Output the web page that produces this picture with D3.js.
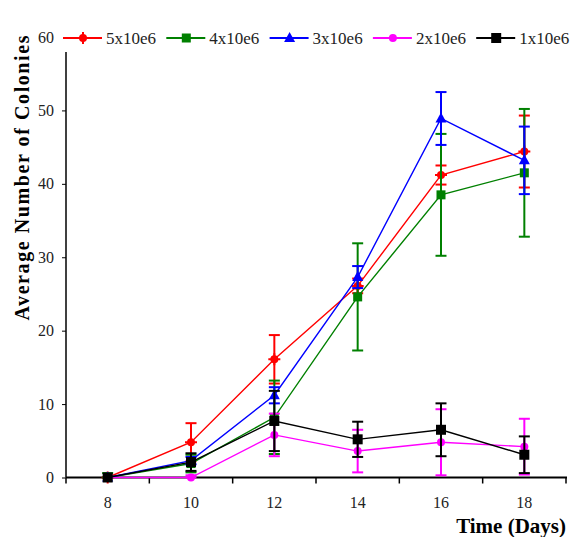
<!DOCTYPE html>
<html>
<head>
<meta charset="utf-8">
<script src="https://cdn.jsdelivr.net/npm/d3@7"></script>
<style>
  body { margin: 0; background: #fff; }
  svg { display: block; }
  svg text { font-family: "Times New Roman", "Liberation Serif", Times, serif; }
</style>
</head>
<body>
<svg width="570" height="537"></svg>
<script>
const days = ['8', '10', '12', '14', '16', '18'];
const yTicks = [0, 10, 20, 30, 40, 50, 60];

// means and error (+/-) per series
const s5 = [0, 4.8, 16.1, 26.1, 41.2, 44.4];
const s5Err = [0, 2.6, 3.3, 1.0, 1.3, 4.9];
const s4 = [0, 1.9, 8.2, 24.6, 38.5, 41.5];
const s4Err = [0.6, 1.2, 5.0, 7.3, 8.3, 8.7];
const s3 = [0, 2.3, 11.2, 27.3, 48.9, 43.2];
const s3Err = [0, 0.5, 1.1, 1.5, 3.6, 4.6];
const s2 = [0, 0, 5.8, 3.6, 4.8, 4.2];
const s2Err = [0, 0.3, 2.9, 2.9, 4.5, 3.8];
const s1 = [0, 2.1, 7.7, 5.2, 6.5, 3.1];
const s1Err = [0, 1.2, 4.1, 2.4, 3.6, 2.5];

const series = [
  { name: '5x10e6', values: s5, err: s5Err, color: '#ff0000', shape: 'plus' },
  { name: '4x10e6', values: s4, err: s4Err, color: '#008000', shape: 'square' },
  { name: '3x10e6', values: s3, err: s3Err, color: '#0000ff', shape: 'triangle' },
  { name: '2x10e6', values: s2, err: s2Err, color: '#ff00ff', shape: 'dot' },
  { name: '1x10e6', values: s1, err: s1Err, color: '#000000', shape: 'bigsquare' },
];

const serif = '"Times New Roman", "Liberation Serif", Times, serif';
const svg = d3.select('svg');

const x = d3.scaleBand().domain(days).range([66, 566]);
const y = d3.scaleLinear().domain([0, 60]).range([477.5, 37]);
const cx = d => x(d) + x.bandwidth() / 2;

// markers
const drawMarker = (g, shape, color) => {
  if (shape === 'square') {
    g.append('rect').attr('x', -4.5).attr('y', -4.5).attr('width', 9).attr('height', 9).attr('fill', color);
  } else if (shape === 'bigsquare') {
    g.append('rect').attr('x', -5).attr('y', -5).attr('width', 10).attr('height', 10).attr('fill', color);
  } else if (shape === 'triangle') {
    g.append('path').attr('d', 'M0,-6L5.5,4L-5.5,4Z').attr('fill', color);
  } else if (shape === 'dot') {
    g.append('circle').attr('r', 4).attr('fill', color);
  } else {
    g.append('circle').attr('r', 4).attr('fill', color);
    g.append('path').attr('d', 'M-6,0H6M0,-6V6').attr('stroke', color).attr('stroke-width', 2);
  }
};

// y axis
const yAxis = svg.append('g')
  .attr('transform', 'translate(66,0)')
  .call(d3.axisLeft(y).tickValues(yTicks).tickSize(4).tickPadding(8));
yAxis.attr('font-family', serif);
yAxis.select('.domain').attr('d', `M0,${y(60)}V${y(0)}`).attr('stroke-width', 1.5);
yAxis.selectAll('text').attr('font-size', 16).attr('fill', '#222');

// x axis
const xAxis = svg.append('g')
  .attr('transform', `translate(0,${y(0)})`)
  .call(d3.axisBottom(x).tickSize(0).tickPadding(19));
xAxis.attr('font-family', serif);
xAxis.select('.domain').attr('d', 'M66,0H567').attr('stroke-width', 2);
xAxis.selectAll('text').attr('font-size', 16).attr('fill', '#222');
xAxis.selectAll('line.edge')
  .data(days.map(d => x(d)).concat([x(days[days.length - 1]) + x.bandwidth()]))
  .enter().append('line')
    .attr('class', 'edge')
    .attr('x1', d => d).attr('x2', d => d)
    .attr('y1', 0).attr('y2', 6)
    .attr('stroke', '#000').attr('stroke-width', 1.5);

// series
const line = d3.line().x((v, i) => cx(days[i])).y(v => y(v));
series.forEach(s => {
  const g = svg.append('g');
  g.selectAll('g.err')
    .data(s.values.map((v, i) => ({ v, e: s.err[i], d: days[i] })))
    .enter().append('g')
      .attr('class', 'err')
      .each(function (p) {
        if (!p.e) return;
        const el = d3.select(this);
        const top = y(p.v + p.e), bot = y(Math.max(0, p.v - p.e));
        el.append('line').attr('x1', cx(p.d)).attr('x2', cx(p.d)).attr('y1', top).attr('y2', bot)
          .attr('stroke', s.color).attr('stroke-width', 2);
        [top, bot].forEach(yy => el.append('line')
          .attr('x1', cx(p.d) - 5.5).attr('x2', cx(p.d) + 5.5).attr('y1', yy).attr('y2', yy)
          .attr('stroke', s.color).attr('stroke-width', 2));
      });
  g.append('path')
    .attr('d', line(s.values))
    .attr('fill', 'none')
    .attr('stroke', s.color)
    .attr('stroke-width', 1.4);
  g.selectAll('g.mk')
    .data(s.values)
    .enter().append('g')
      .attr('class', 'mk')
      .attr('transform', (v, i) => `translate(${cx(days[i])},${y(v)})`)
      .each(function () { drawMarker(d3.select(this), s.shape, s.color); });
});

// legend (white box across the top of the plot)
const legend = svg.append('g');
legend.append('rect').attr('x', 59).attr('y', 24).attr('width', 511).attr('height', 28).attr('fill', '#fff');
const item = legend.selectAll('g.item')
  .data(series)
  .enter().append('g')
    .attr('class', 'item')
    .attr('transform', (d, i) => `translate(${63 + i * 103.3},38)`);
item.append('line').attr('x1', 0).attr('x2', 39).attr('y1', 0).attr('y2', 0)
  .attr('stroke', d => d.color).attr('stroke-width', 2);
item.append('g').attr('transform', 'translate(20,0)')
  .each(function (d) { drawMarker(d3.select(this), d.shape, d.color); });
item.append('text')
  .attr('x', 43).attr('y', 6)
  .attr('font-family', serif)
  .attr('font-size', 17)
  .attr('fill', '#222')
  .text(d => d.name);

// titles
svg.append('text')
  .attr('transform', 'translate(29,178) rotate(-90)')
  .attr('text-anchor', 'middle')
  .attr('font-family', serif)
  .attr('font-size', 20)
  .attr('font-weight', 'bold')
  .attr('textLength', 285)
  .attr('lengthAdjust', 'spacing')
  .text('Average Number of Colonies');

svg.append('text')
  .attr('x', 566).attr('y', 533)
  .attr('text-anchor', 'end')
  .attr('font-family', serif)
  .attr('font-size', 21)
  .attr('font-weight', 'bold')
  .text('Time (Days)');
</script>
</body>
</html>
